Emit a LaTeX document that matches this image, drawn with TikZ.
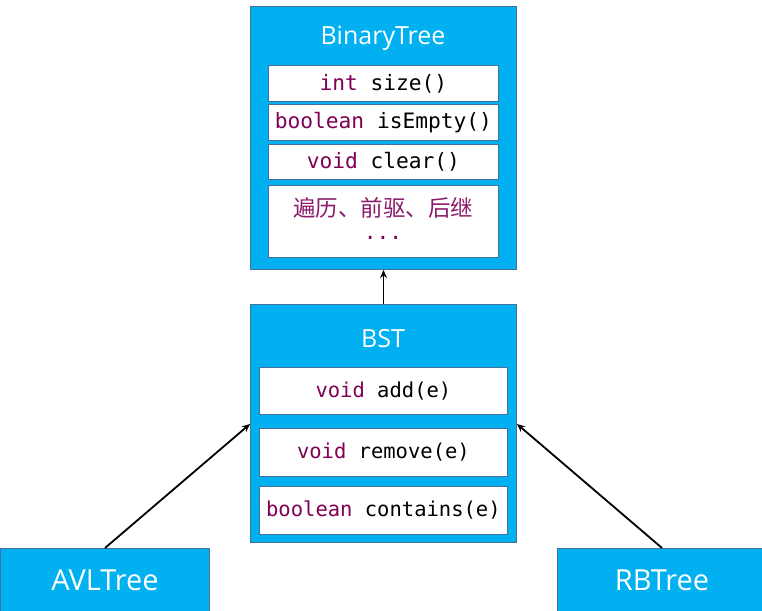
\documentclass[tikz,border=0pt]{standalone}
\usepackage{fontspec}
\setmainfont{Open Sans}
\setmonofont{DejaVu Sans Mono}
\newfontfamily\cjk{Noto Sans CJK SC}
\usetikzlibrary{arrows.meta}
\definecolor{boxcyan}{HTML}{00B0F0}
\definecolor{boxedge}{HTML}{41719C}
\definecolor{kw}{HTML}{7F0055}
\definecolor{cjkcol}{HTML}{8B1A6B}
\tikzset{
  classbox/.style={draw=boxedge, line width=1pt, fill=boxcyan, inner sep=0pt, anchor=north west},
  rowbox/.style={draw=boxedge, line width=0.8pt, fill=white, inner sep=0pt, anchor=north west,
    font=\fontsize{21.2}{26}\selectfont\ttfamily, align=center},
  bstrow/.style={rowbox, font=\fontsize{20.5}{25}\selectfont\ttfamily},
  titletext/.style={text=white, font=\fontsize{25}{30}\selectfont, inner sep=0pt},
  leaftext/.style={text=white, font=\fontsize{29}{34}\selectfont, inner sep=0pt},
  conn/.style={draw=black, line width=1.8pt, -{Stealth[length=8pt,width=7pt]}},
}
\newcommand{\kwd}[1]{\textcolor{kw}{#1}}
\begin{document}
\begin{tikzpicture}[x=1pt,y=-1pt]
\clip (0,0) rectangle (762,610);
\fill[white] (0,0) rectangle (762,610);
% BinaryTree
\node[classbox, minimum width=266pt, minimum height=263pt] (bt) at (250,6) {};
\node[titletext] (btt) at (383,38) {BinaryTree};
\node[rowbox, minimum width=230pt, minimum height=36pt] (r1) at (268,65) {\kwd{int} size()};
\node[rowbox, minimum width=230pt, minimum height=36pt] (r2) at (268,104) {\kwd{boolean} isEmpty()};
\node[rowbox, minimum width=230pt, minimum height=35pt] (r3) at (268,144) {\kwd{void} clear()};
\node[rowbox, minimum width=230pt, minimum height=72pt] (r4) at (268,185) {};
\node[text=cjkcol, font=\fontsize{22.5}{26}\selectfont\cjk, inner sep=0pt] (r4a) at (383,208) {遍历、前驱、后继};
\node[text=kw, font=\fontsize{21.2}{26}\selectfont\ttfamily, inner sep=0pt] (r4b) at (383,238) {...};
% BST
\node[classbox, minimum width=266pt, minimum height=238pt] (bst) at (250,304) {};
\node[titletext] (bstt) at (383,339) {BST};
\node[bstrow, minimum width=248pt, minimum height=47pt] (b1) at (259,367) {\kwd{void} add(e)};
\node[bstrow, minimum width=248pt, minimum height=48pt] (b2) at (259,428) {\kwd{void} remove(e)};
\node[bstrow, minimum width=248pt, minimum height=48pt] (b3) at (259,486) {\kwd{boolean} contains(e)};
% leaves
\node[classbox, minimum width=209pt, minimum height=70pt] (avl) at (0,548) {};
\node[leaftext] at (105,580) {AVLTree};
\node[classbox, minimum width=210pt, minimum height=70pt] (rb) at (557,548) {};
\node[leaftext] at (662,580) {RBTree};
% connectors
\draw[conn] (bst.north) -- (bt.south);
\draw[conn] (avl.north -| 105,0) -- (bst.west |- 0,424);
\draw[conn] (rb.north -| 662,0) -- (bst.east |- 0,424);
\end{tikzpicture}
\end{document}
